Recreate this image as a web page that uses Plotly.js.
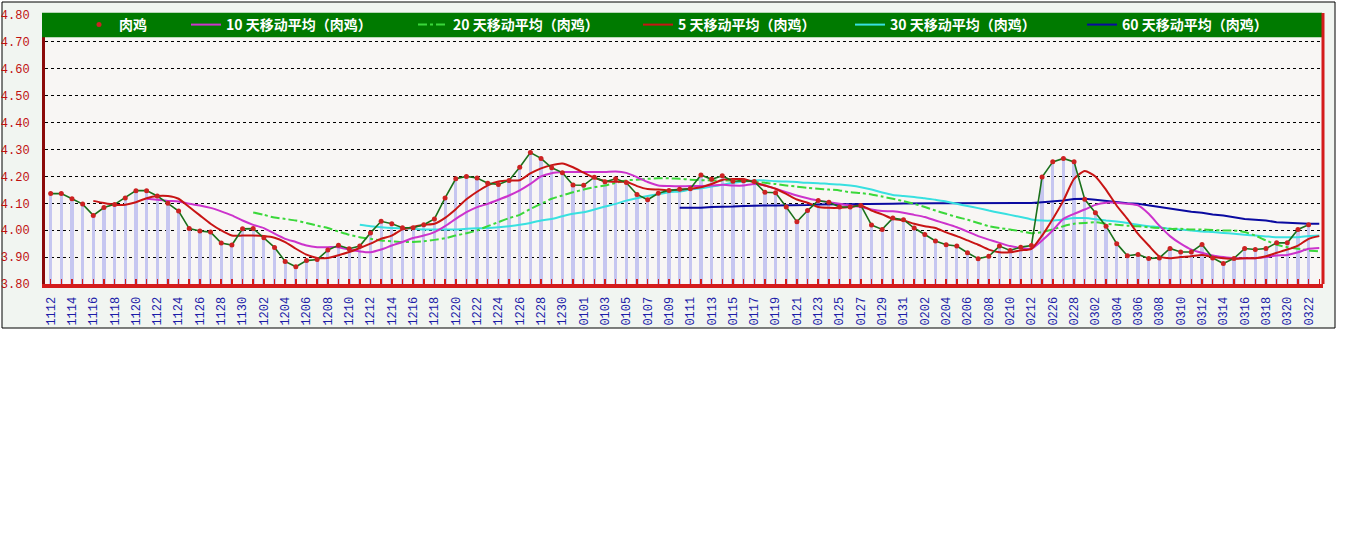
<!DOCTYPE html>
<html>
<head>
<meta charset="utf-8">
<script src="https://cdn.plot.ly/plotly-3.0.1.min.js"></script>
<style>html,body{margin:0;padding:0;background:#fff}#chart{width:1346px;height:541px}</style>
</head>
<body>
<div id="chart"></div>
<script>
// ---- categories (dates, MMDD) ----
const dates = [
 "1112","1113","1114","1115","1116","1117","1118","1119","1120","1121","1122","1123","1124","1125","1126","1127","1128","1129","1130",
 "1201","1202","1203","1204","1205","1206","1207","1208","1209","1210","1211","1212","1213","1214","1215","1216","1217","1218","1219","1220",
 "1221","1222","1223","1224","1225","1226","1227","1228","1229","1230","1231",
 "0101","0102","0103","0104","0105","0106","0107","0108","0109","0110","0111","0112","0113","0114","0115","0116","0117","0118","0119","0120",
 "0121","0122","0123","0124","0125","0126","0127","0128","0129","0130","0131",
 "0201","0202","0203","0204","0205","0206","0207","0208","0209","0210","0211","0212","0225","0226","0227","0228",
 "0301","0302","0303","0304","0305","0306","0307","0308","0309","0310","0311","0312","0313","0314","0315","0316","0317","0318","0319","0320",
 "0321","0322","0323"
];

// ---- 肉鸡 daily price ----
const price = [
 4.136,4.136,4.117,4.097,4.055,4.084,4.096,4.120,4.147,4.147,4.127,4.100,4.071,4.006,3.997,3.993,3.952,3.945,4.005,
 4.006,3.972,3.936,3.884,3.864,3.887,3.891,3.926,3.944,3.931,3.941,3.990,4.033,4.024,4.009,4.009,4.020,4.042,4.120,4.191,
 4.200,4.194,4.175,4.170,4.185,4.234,4.289,4.267,4.232,4.214,4.168,
 4.167,4.197,4.180,4.191,4.177,4.133,4.113,4.137,4.148,4.152,4.154,4.205,4.189,4.202,4.182,4.184,4.181,4.141,4.139,4.086,
 4.031,4.073,4.110,4.104,4.086,4.086,4.092,4.019,4.003,4.045,4.039,
 4.008,3.984,3.960,3.946,3.941,3.916,3.894,3.903,3.941,3.925,3.937,3.943,4.198,4.254,4.267,4.254,
 4.115,4.065,4.015,3.950,3.905,3.910,3.895,3.897,3.932,3.919,3.919,3.947,3.897,3.876,3.895,3.932,3.928,3.932,3.953,3.953,
 4.003,4.020,null
];

// ---- moving averages (leading gaps where no average exists) ----
const ma5Start = 4;
const ma5 = [
 4.109,4.101,4.095,4.095,4.104,4.119,4.127,4.127,4.117,4.086,4.055,4.024,3.999,3.980,3.980,3.980,
 3.978,3.972,3.956,3.931,3.909,3.897,3.897,3.907,3.919,3.934,3.950,3.968,3.980,4.003,4.012,4.020,4.024,4.046,4.078,
 4.115,4.143,4.167,4.181,4.185,4.186,4.211,4.230,4.242,4.248,4.234,
 4.214,4.195,4.183,4.180,4.180,4.164,4.153,4.151,4.148,4.151,4.154,4.160,4.172,4.187,4.190,4.190,4.178,4.166,4.154,4.135,
 4.114,4.102,4.086,4.083,4.083,4.086,4.092,4.073,4.059,4.042,4.036,
 4.024,4.015,4.008,3.992,3.978,3.962,3.946,3.928,3.918,3.918,3.925,3.931,3.980,4.042,4.110,4.191,
 4.220,4.200,4.150,4.091,4.042,3.986,3.943,3.903,3.896,3.900,3.903,3.908,3.900,3.896,3.894,3.896,3.896,3.903,3.916,3.928,
 3.943,3.968,3.978
];
const ma10Start = 9;
const ma10 = [
 4.117,4.113,4.109,4.107,4.098,4.092,4.083,4.070,4.055,4.036,
 4.020,4.008,3.987,3.968,3.956,3.943,3.937,3.937,3.937,3.928,3.921,3.918,3.928,3.943,3.956,3.971,3.980,3.993,4.015,4.042,
 4.067,4.086,4.098,4.113,4.129,4.148,4.172,4.200,4.212,4.216,4.216,
 4.216,4.216,4.216,4.218,4.213,4.197,4.179,4.166,4.164,4.163,4.164,4.164,4.166,4.169,4.166,4.166,4.172,4.166,4.154,4.141,
 4.129,4.119,4.110,4.104,4.098,4.092,4.086,4.077,4.071,4.070,4.065,
 4.057,4.049,4.036,4.024,4.011,3.995,3.978,3.965,3.953,3.941,3.934,3.931,3.962,3.999,4.042,4.061,
 4.077,4.094,4.102,4.102,4.098,4.092,4.061,4.017,3.978,3.950,3.928,3.916,3.906,3.900,3.896,3.896,3.896,3.900,3.906,3.908,
 3.918,3.931,3.934
];
const ma20Start = 19;
const ma20 = [
 4.066,4.057,4.047,4.042,4.036,4.027,4.017,4.008,3.995,3.983,3.974,3.968,3.962,3.959,3.956,3.956,3.959,3.964,3.970,3.980,
 3.989,3.999,4.015,4.030,4.045,4.057,4.079,4.098,4.117,4.129,4.141,
 4.151,4.160,4.166,4.176,4.185,4.188,4.191,4.193,4.193,4.191,4.188,4.186,4.185,4.185,4.185,4.184,4.181,4.176,4.172,4.166,
 4.162,4.157,4.154,4.151,4.148,4.141,4.138,4.133,4.125,4.117,4.108,
 4.098,4.086,4.073,4.061,4.049,4.039,4.027,4.015,4.008,4.003,3.996,3.989,3.993,4.003,4.015,4.024,
 4.027,4.030,4.024,4.020,4.017,4.015,4.011,4.008,4.005,4.005,4.003,4.003,4.001,3.999,3.999,3.993,3.980,3.962,3.946,3.937,
 3.931,3.925,3.921
];
const ma30Start = 29;
const ma30 = [
 4.020,4.015,4.011,4.008,4.007,4.005,4.003,4.003,4.003,4.003,
 4.005,4.007,4.008,4.011,4.015,4.020,4.027,4.036,4.042,4.052,4.061,
 4.067,4.077,4.088,4.098,4.110,4.119,4.127,4.134,4.141,4.144,4.151,4.156,4.162,4.169,4.176,4.181,4.185,4.185,4.182,4.181,
 4.179,4.176,4.175,4.172,4.170,4.166,4.160,4.151,4.140,4.131,4.127,
 4.123,4.119,4.113,4.107,4.098,4.090,4.082,4.073,4.065,4.057,4.049,4.040,4.036,4.036,4.040,4.045,
 4.045,4.041,4.036,4.032,4.027,4.020,4.015,4.011,4.005,4.003,3.999,3.995,3.993,3.990,3.987,3.983,3.980,3.977,3.974,3.974,
 3.974,3.978,3.980
];
const ma60Start = 59;
const ma60 = [
 4.083,4.083,4.083,4.086,4.086,4.088,4.090,4.092,4.092,4.092,4.092,
 4.094,4.094,4.096,4.096,4.097,4.098,4.098,4.098,4.098,4.098,4.099,
 4.100,4.100,4.100,4.100,4.100,4.100,4.100,4.100,4.100,4.100,4.100,4.101,4.104,4.107,4.110,4.116,
 4.117,4.113,4.108,4.104,4.100,4.098,4.092,4.086,4.079,4.073,4.069,4.065,4.058,4.055,4.049,4.042,4.039,4.036,4.030,4.027,
 4.026,4.024,4.024
];

// ---- legend labels ----
const nameRaw = "肉鸡";
const name5 = "5 天移动平均（肉鸡）";
const name10 = "10 天移动平均（肉鸡）";
const name20 = "20 天移动平均（肉鸡）";
const name30 = "30 天移动平均（肉鸡）";
const name60 = "60 天移动平均（肉鸡）";

function place(start, vals){ return new Array(start).fill(null).concat(vals); }

const tickText = dates.map((d,i)=> i % 2 === 0 ? d : "");

const maLine = (y, name, color, legend, extra) => Object.assign({
  type:'scatter', mode:'lines', x:dates, y:y, name:name, legend:legend,
  line:{color:color, width:2, shape:'spline', smoothing:0.6},
  hoverinfo:'skip', connectgaps:false
}, extra||{});

const traces = [
  {type:'bar', x:dates, y:price, width:0.3, marker:{color:'#c6c6f0', line:{width:0}}, showlegend:false, hoverinfo:'skip'},
  maLine(place(ma60Start, ma60), name60, '#0a0aa0', 'legend6', {line:{color:'#0a0aa0', width:2, shape:'linear'}}),
  maLine(place(ma30Start, ma30), name30, '#38e0e0', 'legend5'),
  maLine(place(ma20Start, ma20), name20, '#3ad83a', 'legend3', {line:{color:'#3ad83a', width:2, dash:'dashdot', shape:'spline', smoothing:0.6}}),
  maLine(place(ma10Start, ma10), name10, '#cc33cc', 'legend2'),
  maLine(place(ma5Start, ma5), name5, '#c81414', 'legend4'),
  {type:'scatter', mode:'lines', x:dates, y:price, line:{color:'#1a701a', width:1.6}, showlegend:false, hoverinfo:'skip'},
  {type:'scatter', mode:'markers', x:dates, y:price, name:nameRaw, legend:'legend',
   marker:{color:'#cc2222', size:5}, hoverinfo:'skip'}
];

const W = 1278, H = 269, L = 45, B = 284;
const px = v => (v - L) / W;   // pixel x -> paper x
const py = v => (B - v) / H;   // pixel y -> paper y

const legFont = {family:'"Noto Sans CJK SC", "Noto Sans", sans-serif', size:14, color:'#ffffff', weight:'bold'};
const mkLegend = (textStart) => ({
  x: px(textStart - 40), xanchor:'left', y: py(25), yanchor:'middle',
  orientation:'h', bgcolor:'rgba(0,0,0,0)', borderwidth:0, font:legFont
});

const layout = {
  width:1346, height:541,
  margin:{l:45, r:23, t:15, b:257, pad:0, autoexpand:false},
  paper_bgcolor:'#ffffff', plot_bgcolor:'rgba(0,0,0,0)',
  showlegend:true,
  legend: mkLegend(119),
  legend2: mkLegend(226),
  legend3: mkLegend(453),
  legend4: mkLegend(678),
  legend5: mkLegend(890),
  legend6: mkLegend(1122),
  bargap:0,
  xaxis:{
    type:'category', categoryarray:dates, categoryorder:'array',
    range:[-0.53, 119.35], autorange:false,
    tickmode:'array', tickvals:dates, ticktext:tickText,
    tickangle:-90, tickfont:{family:'"Liberation Mono", "DejaVu Sans Mono", monospace', size:12, color:'#1c1ca8'},
    ticks:'inside', ticklen:5, tickwidth:1.5, tickcolor:'#d41c1c',
    showline:true, linecolor:'#d41c1c', linewidth:4,
    showgrid:false, zeroline:false, fixedrange:true, ticklabelstandoff:4
  },
  yaxis:{
    range:[3.8, 4.8], autorange:false, dtick:0.1, tick0:3.8, tickformat:'.2f',
    tickfont:{family:'"Liberation Mono", "DejaVu Sans Mono", monospace', size:12, color:'#c01010'},
    ticks:'', showline:true, linecolor:'#8b0a0a', linewidth:3,
    showgrid:true, gridcolor:'#000000', gridwidth:1, griddash:'3px,3px',
    zeroline:false, fixedrange:true, ticklabelstandoff:10
  },
  shapes:[
    {type:'rect', xref:'paper', yref:'paper', x0:px(2), x1:px(1335), y0:py(328), y1:py(2),
     fillcolor:'#f1f5f1', line:{color:'#000000', width:1}, layer:'below'},
    {type:'rect', xref:'paper', yref:'paper', x0:0, x1:1, y0:0, y1:1,
     fillcolor:'#f8f6f4', line:{width:0}, layer:'below'},
    {type:'rect', xref:'paper', yref:'paper', x0:px(42), x1:px(1322), y0:py(37.3), y1:py(12.7),
     fillcolor:'#007a00', line:{width:0}, layer:'above'},
    {type:'line', xref:'paper', yref:'paper', x0:px(1323), x1:px(1323), y0:0, y1:py(13),
     line:{color:'#d41c1c', width:3}, layer:'above'}
  ]
};

Plotly.newPlot('chart', traces, layout, {staticPlot:true, displayModeBar:false});
</script>
</body>
</html>
